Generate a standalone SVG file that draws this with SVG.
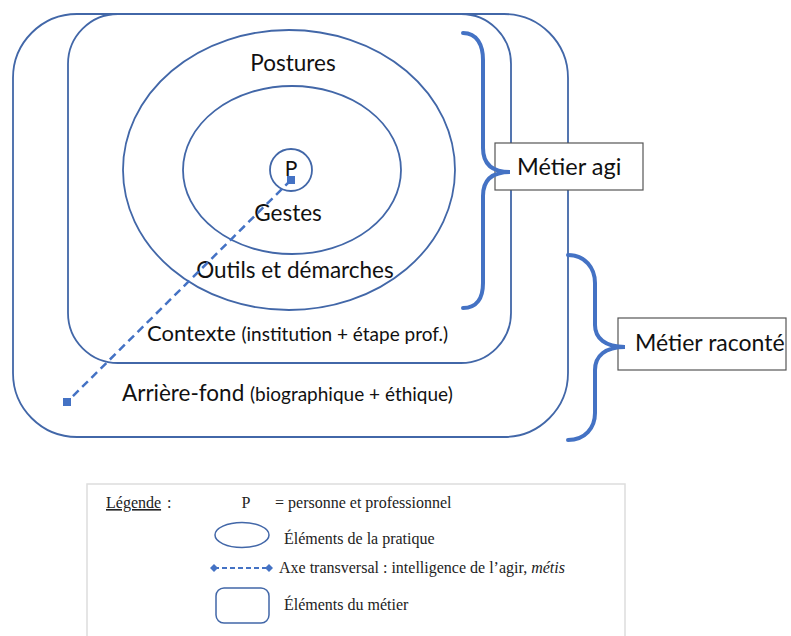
<svg xmlns="http://www.w3.org/2000/svg" width="791" height="636" viewBox="0 0 791 636">
<style>
.ln{fill:none;stroke:#4267A8;stroke-width:1.8}
.br{fill:none;stroke:#4472C4;stroke-width:4;stroke-linecap:round}
.ax{fill:none;stroke:#4472C4;stroke-width:2.5;stroke-dasharray:8 5}
.t{font-family:Lato,"Open Sans",sans-serif;fill:#111}
.lg{font-family:"Liberation Serif","Times New Roman",serif;font-size:16px;fill:#222}
.box{fill:#fff;stroke:#555;stroke-width:1.2}
</style>
<defs>
<marker id="sq" markerWidth="8" markerHeight="8" refX="4" refY="4" markerUnits="userSpaceOnUse"><rect x="0" y="0" width="8" height="8" fill="#4472C4"/></marker>
<marker id="dm" markerWidth="8" markerHeight="8" refX="4" refY="4" markerUnits="userSpaceOnUse"><path d="M4,0 L8,4 L4,8 L0,4 Z" fill="#4472C4"/></marker>
</defs>
<rect x="0" y="0" width="791" height="636" fill="#fff"/>

<g id="arriere-fond">
<rect class="ln" x="13" y="14" width="555" height="423" rx="64" ry="64"/>
<text class="t" x="122" y="401"><tspan font-size="22.5">Arrière-fond </tspan><tspan font-size="19">(biographique + éthique)</tspan></text>
</g>
<g id="contexte">
<rect class="ln" x="68" y="14" width="443" height="349" rx="50" ry="50"/>
<text class="t" x="147" y="341"><tspan font-size="22">Contexte </tspan><tspan font-size="19">(institution + étape prof.)</tspan></text>
</g>
<g id="postures">
<ellipse class="ln" cx="289" cy="170" rx="166" ry="140"/>
<text class="t" x="293" y="71" font-size="22.5" text-anchor="middle">Postures</text>
<text class="t" x="295" y="278" font-size="22.5" text-anchor="middle">Outils et démarches</text>
</g>
<g id="gestes">
<ellipse class="ln" cx="292" cy="170" rx="109" ry="84"/>
<text class="t" x="288" y="221" font-size="22.5" text-anchor="middle">Gestes</text>
</g>
<g id="personne">
<circle class="ln" cx="291" cy="170" r="21"/>
<text class="t" x="291" y="176" font-size="21" text-anchor="middle">P</text>
</g>

<g id="metier-agi">
<rect class="box" x="495" y="143" width="148" height="47"/>
<text class="t" x="517" y="175" font-size="23.5">Métier agi</text>
</g>
<g id="metier-raconte">
<rect class="box" x="618" y="318" width="168" height="52"/>
<text class="t" x="635" y="351" font-size="23">Métier raconté</text>
</g>

<g id="connectors">
<path class="br" d="M463,33 C477,33 483,45 483,60 L483,148 C483,162 490,172 510,172 C490,172 483,182 483,196 L483,283 C483,298 477,308 463,308"/>
<path class="br" d="M568,255 C585,255 595,268 595,283 L595,325 C595,338 605,347 625,347 C605,347 595,356 595,370 L595,413 C595,428 585,440 568,440"/>
<line class="ax" x1="291" y1="180" x2="67" y2="402" marker-start="url(#sq)" marker-end="url(#sq)"/>
</g>

<g id="legende">
<rect x="87" y="484" width="538" height="160" fill="none" stroke="#ddd" stroke-width="1.5"/>
<text class="lg" x="106" y="508" text-decoration="underline">Légende</text>
<text class="lg" x="167" y="508">:</text>
<text class="lg" x="246" y="508" text-anchor="middle">P</text>
<text class="lg" x="275" y="508">= personne et professionnel</text>
<ellipse cx="242" cy="535" rx="27" ry="12.5" fill="none" stroke="#4267A8" stroke-width="1.5"/>
<text class="lg" x="284" y="544">Éléments de la pratique</text>
<line x1="214" y1="568" x2="269" y2="568" stroke="#4472C4" stroke-width="2" stroke-dasharray="5 3" marker-start="url(#dm)" marker-end="url(#dm)"/>
<text class="lg" x="279" y="573">Axe transversal : intelligence de l’agir, <tspan font-style="italic">métis</tspan></text>
<rect x="216" y="588" width="53" height="35" rx="8" fill="none" stroke="#4267A8" stroke-width="1.5"/>
<text class="lg" x="284" y="610">Éléments du métier</text>
</g>
</svg>
